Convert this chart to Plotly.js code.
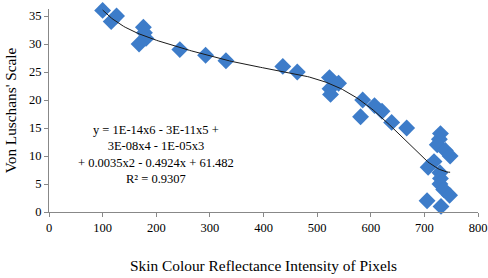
<!DOCTYPE html>
<html>
<head>
<meta charset="utf-8">
<script src="https://cdn.plot.ly/plotly-3.0.1.min.js"></script>
<style>html,body{margin:0;padding:0;background:#fff;}#chart{width:488px;height:278px;}</style>
</head>
<body>
<div id="chart"></div>
<script>
// Data
const pixelIntensity = [100, 116, 126, 176, 178, 181, 168, 244, 292, 330,
  436, 463, 523, 540, 524, 525, 585, 581, 607, 621, 639, 667,
  730, 728, 724, 739, 748, 718, 707, 729, 730, 729, 736, 747, 705, 731];
const luschanScale = [36, 34, 35, 33, 32, 31, 30, 29, 28, 27,
  26, 25, 24, 23, 22, 21, 20, 17, 19, 18, 16, 15,
  14, 13, 12, 11, 10, 9, 8, 7, 6, 5, 4, 3, 2, 1];
const xTicks = [0, 100, 200, 300, 400, 500, 600, 700, 800];
const yTicks = [0, 5, 10, 15, 20, 25, 30, 35];
const equationLines = ["y = 1E-14x6 - 3E-11x5 +", "3E-08x4 - 1E-05x3", "+ 0.0035x2 - 0.4924x + 61.482", "R² = 0.9307"];

// 6th-order polynomial least-squares trendline fitted to the data
function polyFit(xs, ys, deg) {
  const xmin = Math.min(...xs), xmax = Math.max(...xs);
  const s = v => (v - xmin) / (xmax - xmin);
  const n = deg + 1;
  const A = Array.from({length: n}, () => new Array(n + 1).fill(0));
  for (let k = 0; k < xs.length; k++) {
    const t = s(xs[k]);
    const p = [];
    for (let i = 0; i < n; i++) p.push(Math.pow(t, i));
    for (let i = 0; i < n; i++) {
      for (let j = 0; j < n; j++) A[i][j] += p[i] * p[j];
      A[i][n] += p[i] * ys[k];
    }
  }
  for (let c = 0; c < n; c++) {
    let piv = c;
    for (let r = c + 1; r < n; r++) if (Math.abs(A[r][c]) > Math.abs(A[piv][c])) piv = r;
    [A[c], A[piv]] = [A[piv], A[c]];
    for (let r = 0; r < n; r++) {
      if (r === c) continue;
      const f = A[r][c] / A[c][c];
      for (let j = c; j <= n; j++) A[r][j] -= f * A[c][j];
    }
  }
  const coef = A.map((row, i) => row[n] / row[i]);
  return {xmin, xmax, f: v => { const t = s(v); let r = 0; for (let i = n - 1; i >= 0; i--) r = r * t + coef[i]; return r; }};
}
const fit = polyFit(pixelIntensity, luschanScale, 6);
const trendX = [], trendY = [];
for (let i = 0; i <= 200; i++) {
  const xv = fit.xmin + (fit.xmax - fit.xmin) * i / 200;
  trendX.push(xv); trendY.push(fit.f(xv));
}

const font = "Liberation Serif, Times New Roman, serif";
const data = [
  {x: pixelIntensity, y: luschanScale, type: 'scatter', mode: 'markers', cliponaxis: false,
   marker: {symbol: 'diamond', size: 13, color: '#3d7cc9'}, hoverinfo: 'none'},
  {x: trendX, y: trendY, type: 'scatter', mode: 'lines', cliponaxis: false,
   line: {color: '#1a1a1a', width: 1}, hoverinfo: 'none'}
];
const layout = {
  width: 488, height: 278,
  margin: {l: 49, r: 10, t: 9, b: 66},
  paper_bgcolor: '#fff', plot_bgcolor: '#fff',
  showlegend: false,
  font: {family: font, size: 12, color: '#000'},
  xaxis: {range: [0, 800], tickvals: xTicks, ticktext: xTicks.map(String),
    showgrid: false, zeroline: false, showline: true, linecolor: '#888', linewidth: 1,
    ticks: 'outside', ticklen: 4, tickcolor: '#888', tickfont: {family: font, size: 12.5},
    title: {text: 'Skin Colour Reflectance Intensity of Pixels', font: {family: font, size: 15.4}, standoff: 26}},
  yaxis: {range: [0, 36.25], tickvals: yTicks, ticktext: yTicks.map(String),
    showgrid: false, zeroline: false, showline: true, linecolor: '#888', linewidth: 1,
    ticks: 'outside', ticklen: 4, tickcolor: '#888', tickfont: {family: font, size: 12.5},
    title: {text: "Von Luschans' Scale", font: {family: font, size: 15.3}, standoff: 8}},
  annotations: [{
    xref: 'paper', yref: 'paper', x: (156 - 49) / 429, y: (212 - 154) / 203,
    xanchor: 'center', yanchor: 'middle', showarrow: false, align: 'center',
    text: equationLines.join('<br>'), font: {family: font, size: 12.5, color: '#000'}
  }]
};
Plotly.newPlot('chart', data, layout, {displayModeBar: false, staticPlot: true});
</script>
</body>
</html>
